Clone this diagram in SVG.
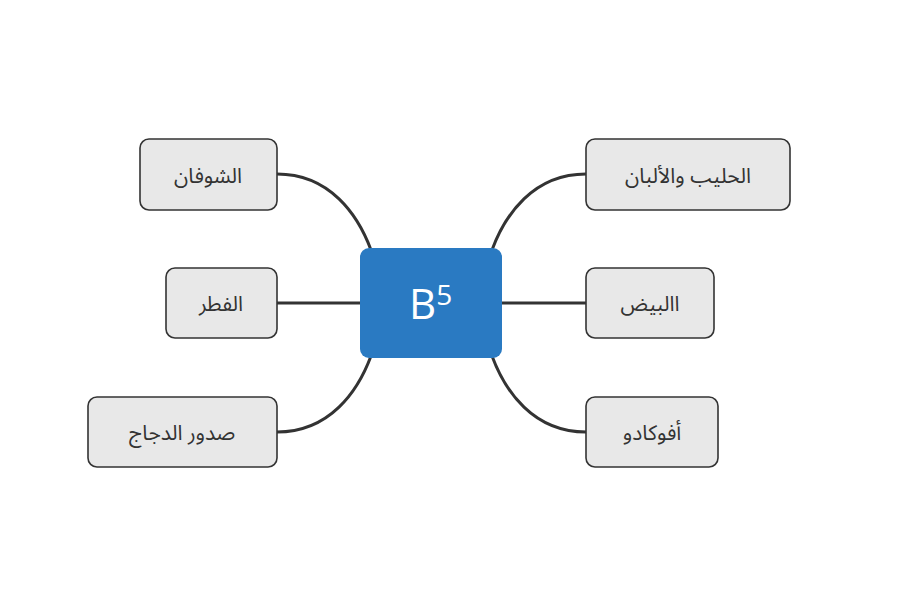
<svg xmlns="http://www.w3.org/2000/svg" width="919" height="593" viewBox="0 0 919 593">
<style>
.node rect{fill:#e8e8e8;stroke:#333;stroke-width:1.6}
.node text{font-family:"Noto Sans Arabic","Noto Sans","DejaVu Sans",sans-serif;font-size:21px;fill:#333;text-anchor:middle;dominant-baseline:central}
.conn path{fill:none;stroke:#333;stroke-width:3}
</style>
<rect width="919" height="593" fill="#fff"/>
<g id="connectors" class="conn">
<path d="M277,174 C330,174 358,215 371,250"/>
<path d="M586,174 C533,174 505,215 492,250"/>
<path d="M277,303 H362"/>
<path d="M500,303 H586"/>
<path d="M277,432 C330,432 358,391 371,356"/>
<path d="M586,432 C533,432 505,391 492,356"/>
</g>
<g id="center">
<rect x="360" y="248" width="142" height="110" rx="9" fill="#2a7ac2"/>
<text x="409" y="319" font-family="Open Sans, sans-serif" font-size="42" fill="#fff">B<tspan font-size="28" dy="-14">5</tspan></text>
</g>
<g id="n1" class="node"><rect x="140" y="139" width="137" height="71" rx="9"/><text x="208" y="176">الشوفان</text></g>
<g id="n2" class="node"><rect x="166" y="268" width="111" height="70" rx="9"/><text x="221" y="304">الفطر</text></g>
<g id="n3" class="node"><rect x="88" y="397" width="189" height="70" rx="9"/><text x="182" y="433">صدور الدجاج</text></g>
<g id="n4" class="node"><rect x="586" y="139" width="204" height="71" rx="9"/><text x="688" y="176">الحليب والألبان</text></g>
<g id="n5" class="node"><rect x="586" y="268" width="128" height="70" rx="9"/><text x="650" y="304">االبيض</text></g>
<g id="n6" class="node"><rect x="586" y="397" width="132" height="70" rx="9"/><text x="652" y="433">أفوكادو</text></g>
</svg>
